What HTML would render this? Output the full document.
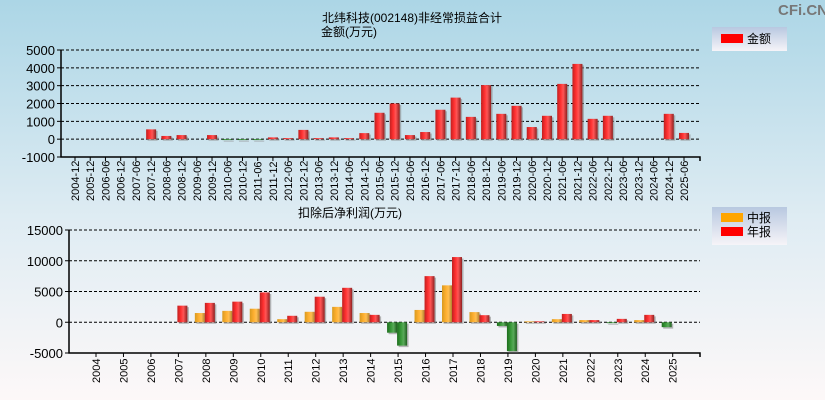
<!DOCTYPE html>
<html><head><meta charset="utf-8"><style>
html,body{margin:0;padding:0;}
body{width:825px;height:400px;overflow:hidden;font-family:"Liberation Sans","Noto Sans CJK SC",sans-serif;}
</style></head><body>
<svg id="c" width="825" height="400" xmlns="http://www.w3.org/2000/svg" style="display:block">
<defs>
<linearGradient id="bg" x1="0" y1="0" x2="0" y2="1"><stop offset="0" stop-color="#acd6e6"/><stop offset="0.55" stop-color="#dfecf3"/><stop offset="1" stop-color="#fdf8f8"/></linearGradient>
<linearGradient id="gr" x1="0" y1="0" x2="1" y2="0"><stop offset="0" stop-color="#c02020"/><stop offset="0.35" stop-color="#ff3030"/><stop offset="0.6" stop-color="#ff5555"/><stop offset="1" stop-color="#902020"/></linearGradient>
<linearGradient id="go" x1="0" y1="0" x2="1" y2="0"><stop offset="0" stop-color="#d89a20"/><stop offset="0.4" stop-color="#ffb030"/><stop offset="0.65" stop-color="#ffbe50"/><stop offset="1" stop-color="#b08030"/></linearGradient>
<linearGradient id="gg" x1="0" y1="0" x2="1" y2="0"><stop offset="0" stop-color="#1e6e1e"/><stop offset="0.4" stop-color="#3a9a3a"/><stop offset="0.65" stop-color="#5aaa5a"/><stop offset="1" stop-color="#1e5e1e"/></linearGradient>
<linearGradient id="lg" x1="0" y1="0" x2="0" y2="1"><stop offset="0" stop-color="#b8c8e0"/><stop offset="1" stop-color="#f6f4f8"/></linearGradient>
</defs>
<rect width="825" height="400" fill="url(#bg)"/>
<text x="778" y="15" font-size="15" font-weight="bold" fill="#777">CFi.CN</text>
<text x="412" y="22" font-size="12" text-anchor="middle">北纬科技(002148)非经常损益合计</text>
<text x="321" y="36" font-size="12">金额(万元)</text>
<text x="298" y="217" font-size="12">扣除后净利润(万元)</text>
<g>
<rect x="712" y="27" width="75" height="24" fill="url(#lg)"/>
<rect x="721" y="34" width="22" height="9" fill="#ff0000"/>
<text x="747" y="43" font-size="12">金额</text>
</g>
<g>
<rect x="712" y="207" width="75" height="38" fill="url(#lg)"/>
<rect x="721" y="213" width="22" height="9" fill="#ffa500"/>
<text x="747" y="222" font-size="12">中报</text>
<rect x="721" y="227" width="22" height="9" fill="#ff0000"/>
<text x="747" y="236" font-size="12">年报</text>
</g>
<g id="top"></g>
<g id="bot"></g>
</svg>
<script>
const topCats=["2004-12","2005-12","2006-06","2006-12","2007-06","2007-12","2008-06","2008-12","2009-06","2009-12","2010-06","2010-12","2011-06","2011-12","2012-06","2012-12","2013-06","2013-12","2014-06","2014-12","2015-06","2015-12","2016-06","2016-12","2017-06","2017-12","2018-06","2018-12","2019-06","2019-12","2020-06","2020-12","2021-06","2021-12","2022-06","2022-12","2023-06","2023-12","2024-06","2024-12","2025-06"];
const topVals=[0,0,0,0,0,550,180,230,0,230,-50,-50,-50,100,60,520,60,100,60,340,1480,2000,230,400,1650,2330,1250,3030,1420,1870,680,1310,3100,4220,1140,1310,0,0,0,1420,350];
const topTicks=[5000,4000,3000,2000,1000,0,-1000];
const botCats=["2004","2005","2006","2007","2008","2009","2010","2011","2012","2013","2014","2015","2016","2017","2018","2019","2020","2021","2022","2023","2024","2025"];
const botMid=[0,0,0,0,1500,1850,2200,500,1700,2500,1500,-1700,2000,6000,1650,-600,150,500,350,-150,350,-800];
const botAnn=[0,0,0,2700,3150,3350,4850,1050,4150,5600,1200,-3800,7500,10600,1150,-4700,150,1350,350,550,1200,null];
const botTicks=[15000,10000,5000,0,-5000];
const NS="http://www.w3.org/2000/svg";
function mk(p,t,a){const e=document.createElementNS(NS,t);for(const k in a)e.setAttribute(k,a[k]);p.appendChild(e);return e;}
function axes(g,x0,x1,yT,yB,vT,vB,ticks,name){
  const y=v=>yT+(vT-v)/(vT-vB)*(yB-yT);
  ticks.forEach(t=>{
    if(t!==vB){const l=mk(g,'line',{x1:x0,x2:x1,y1:y(t),y2:y(t),stroke:'#000','stroke-dasharray':'3,2','stroke-width':1});
    
    }
    const tx=mk(g,'text',{x:x0-6,y:y(t)+5,'font-size':13,'text-anchor':'end',fill:'#000'});tx.textContent=t;
    
    
    mk(g,'line',{x1:x0-4,x2:x0,y1:y(t),y2:y(t),stroke:'#000'});
  });
  const a=mk(g,'path',{d:`M${x0} ${yT}V${yB}H${x1}V${yB+4}`,stroke:'#000',fill:'none','stroke-width':1.5});
  
  
  return y;
}
function bar(g,cx,w,v,y,pos,name){
  if(v===null||v===0)return;
  const y0=y(0),yv=y(v);
  const fill=v<0?'url(#gg)':pos;
  mk(g,'rect',{x:cx+1.5,y:Math.min(y0,yv)+1.5,width:w,height:Math.max(Math.abs(yv-y0),0.8),fill:'#888',opacity:0.6});
  const r=mk(g,'rect',{x:cx,y:Math.min(y0,yv),width:w,height:Math.max(Math.abs(yv-y0),0.8),fill:fill});
  
  
}
(function(){
  const g=document.getElementById('top');
  const y=axes(g,61,700,50,157,5000,-1000,topTicks,'top');
  const x=i=>75+i*((684-75)/(topCats.length-1));
  topCats.forEach((c,i)=>{
    bar(g,x(i)-5,10,topVals[i],y,'url(#gr)','bar-'+c);
    mk(g,'line',{x1:x(i),x2:x(i),y1:157,y2:161,stroke:'#000'});
    const t=mk(g,'text',{x:0,y:0,'font-size':11,transform:`translate(${x(i)+4},${201}) rotate(-90)`});t.textContent=c;
    
    
  });
})();
(function(){
  const g=document.getElementById('bot');
  const y=axes(g,69,700,230,353,15000,-5000,botTicks,'bottom');
  const x=i=>96+i*((672.7-96)/(botCats.length-1));
  botCats.forEach((c,i)=>{
    bar(g,x(i)-11,10,botMid[i],y,'url(#go)','bar-mid-'+c);
    bar(g,x(i)-1,10,botAnn[i],y,'url(#gr)','bar-annual-'+c);
    mk(g,'line',{x1:x(i),x2:x(i),y1:353,y2:357,stroke:'#000'});
    const t=mk(g,'text',{x:0,y:0,'font-size':11,transform:`translate(${x(i)+4},${383}) rotate(-90)`});t.textContent=c;
    
    
  });
  mk(g,'line',{x1:700,x2:700,y1:353,y2:357,stroke:'#000'});
})();
</script>
</body></html>
